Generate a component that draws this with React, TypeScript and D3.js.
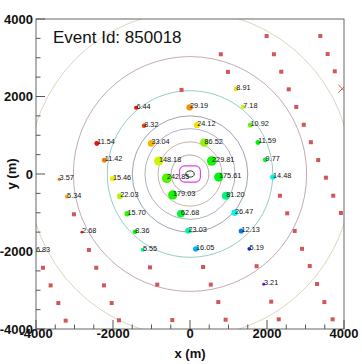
import * as d3 from "d3";

// stations with signal (x, y in m), label = signal, hue = arrival-time colour
const signals = [6.44, 8.32, 11.54, 33.04, 11.42, 148.18, 3.57, 15.46, 242.85, 29.19, 8.91, 7.18,
  24.12, 10.92, 86.52, 11.59, 229.81, 9.77, 175.61, 14.48, 5.34, 22.03, 179.03, 81.20,
  2.68, 15.70, 62.68, 26.47, 8.36, 23.03, 12.13, 6.83, 5.55, 16.05, 5.19, 3.21];
const sigX = [-1400, -1195, -2420, -1010, -2225, -815, -3395, -2010, -605, -10, 1195, 1375,
  180, 1565, 370, 1765, 565, 1955, 745, 2150, -3200, -1820, -450, 935,
  -2810, -1630, -240, 1160, -1430, -45, 1330, -4010, -1230, 150, 1540, 1915];
const sigY = [1710, 1247, 790, 790, 355, 335, -135, -120, -110, 1720, 2195, 1730,
  1265, 1265, 810, 815, 335, 365, -80, -80, -585, -575, -540, -560,
  -1500, -1025, -1025, -1000, -1490, -1465, -1470, -1980, -1955, -1935, -1930, -2845];
const sigHue = [3, 15, 4, 45, 30, 70, 25, 58, 100, 35, 55, 70,
  55, 95, 85, 120, 115, 130, 125, 175, 40, 75, 115, 150,
  5, 110, 135, 180, 120, 160, 210, 65, 155, 195, 228, 272];

// stations without signal
const emptyX = [1990, 3385, 800, 2180, 3575, 985, 2370, 3760, -220, 2565, 2760, 2955, 3140, 3330, 3530,
  2335, 3720, 2525, 3920, 2720, 2910, 3110, 3300, 3490, 3705,
  340, 1730, 540, 735, 2110, 925, 2305,
  -3015, -2625, -3820, -2435, -3620, -2235, -3420, -2035, -3230, -1845, -460, -1040, -850];
const emptyY = [3560, 3560, 3090, 3090, 3095, 2635, 2640, 2650, 2170, 2185, 1730, 1270, 820, 360, -95,
  -560, -560, -1015, -1005, -1470, -1930, -2375, -2840, -3305, -3750,
  -2400, -2380, -2855, -3305, -3295, -3760, -3750,
  -1040, -1960, -2420, -2420, -2875, -2875, -3330, -3330, -3785, -3775, -3770, -2410, -2855];

// LDF contour radii (m) and colours
const contourR = [490, 830, 1170, 1500, 2150, 3030, 4200];
const contourColor = ["#a8a0a0", "#c4ac9c", "#a8a8bc", "#9098ac", "#8cc6be", "#bca2a8", "#d6d0b6"];

const xTicks = [-4000, -2000, 0, 2000, 4000];
const markX = 3955;
const markY = 2200;
const eventId = "850018";

const W = 362, H = 364;
const L = 36, R = 344, T = 19, B = 329;
const font = "'Liberation Sans', Arial, Helvetica, sans-serif";

export default function App() {
  const x = d3.scaleLinear().domain([-4000, 4000]).range([L, R]);
  const y = d3.scaleLinear().domain([-4000, 4000]).range([B, T]);
  const size = d3.scaleLog().domain([2.5, 250]).range([1.3, 4.9]).clamp(true);
  const minor = d3.range(-4000, 4001, 500);

  return (
    <svg width={W} height={H} style={{ position: "absolute", left: 0, top: 0, background: "#fff" }}
      fontFamily={font}>
      <defs>
        <clipPath id="plot">
          <rect x={L} y={T} width={R - L} height={B - T} />
        </clipPath>
      </defs>
      <rect x={0} y={0} width={W} height={H} fill="#fff" />

      <g clipPath="url(#plot)">
        {contourR.map((r, i) => (
          <ellipse key={i} cx={x(0)} cy={y(0)} rx={x(r) - x(0)} ry={y(0) - y(r)}
            fill="none" stroke={contourColor[i]} strokeWidth={0.9} />
        ))}
        <rect x={x(-270)} y={y(210)} width={x(270) - x(-270)} height={y(-210) - y(210)}
          rx={5} ry={5} fill="none" stroke="#e040e8" strokeWidth={1.1} />
        <ellipse cx={x(0)} cy={y(0)} rx={x(110) - x(0)} ry={y(0) - y(80)}
          fill="#fff" stroke="#222" strokeWidth={0.9} />

        {emptyX.map((ex, i) => (
          <rect key={i} x={x(ex) - 2} y={y(emptyY[i]) - 2} width={4} height={4} fill="#d25656" />
        ))}

        <g stroke="#e05555" strokeWidth={1}>
          <line x1={x(markX) - 4} y1={y(markY) - 4} x2={x(markX) + 4} y2={y(markY) + 4} />
          <line x1={x(markX) - 4} y1={y(markY) + 4} x2={x(markX) + 4} y2={y(markY) - 4} />
        </g>

        {signals.map((s, i) => (
          <circle key={i} cx={x(sigX[i])} cy={y(sigY[i])} r={size(s)}
            fill={d3.hsl(sigHue[i], 1, 0.48).toString()} />
        ))}
        {signals.map((s, i) => (
          <text key={i} x={x(sigX[i]) + 0.3} y={y(sigY[i]) + 1} fontSize={7.3} fill="#111">
            {s.toFixed(2)}
          </text>
        ))}
      </g>

      <text x={53} y={43} fontSize={17} fill="#111">Event Id: {eventId}</text>

      {/* frame */}
      <rect x={L} y={T} width={R - L} height={B - T} fill="none" stroke="#666" strokeWidth={1} />

      {/* ticks */}
      <g stroke="#555" strokeWidth={1}>
        {minor.map((v) => {
          const len = v % 2000 === 0 ? 9 : 4.5;
          return (
            <g key={v}>
              <line x1={x(v)} x2={x(v)} y1={B} y2={B - len} />
              <line x1={L} x2={L + len} y1={y(v)} y2={y(v)} />
            </g>
          );
        })}
      </g>

      <g fontSize={13} fontWeight="bold" fill="#111">
        {xTicks.map((v) => (
          <text key={"x" + v} x={x(v)} y={338} textAnchor="middle">{v}</text>
        ))}
        {xTicks.map((v) => (
          <text key={"y" + v} x={33} y={y(v) + 4.7} textAnchor="end">{v}</text>
        ))}
        <text x={(L + R) / 2} y={358} textAnchor="middle">x (m)</text>
        <text transform={`translate(16,${(T + B) / 2}) rotate(-90)`} textAnchor="middle">y (m)</text>
      </g>
    </svg>
  );
}
